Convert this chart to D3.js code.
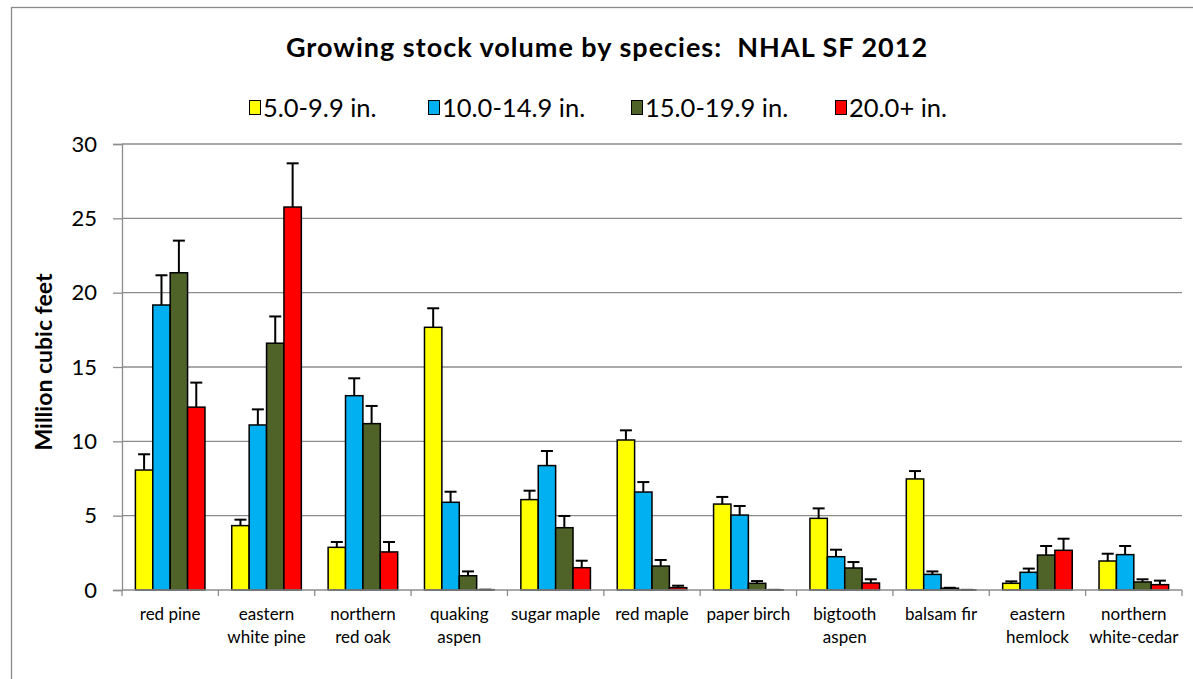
<!DOCTYPE html>
<html>
<head>
<meta charset="utf-8">
<script src="https://cdn.jsdelivr.net/npm/d3@7"></script>
<style>
  html, body { margin: 0; padding: 0; background: #fff; }
  svg { display: block; font-family: Lato, 'Open Sans', sans-serif; }
</style>
</head>
<body>
<svg id="chart" width="1193" height="679"></svg>
<script>
// species on the x axis (label lines)
const categories = [
  ['red pine'],
  ['eastern', 'white pine'],
  ['northern', 'red oak'],
  ['quaking', 'aspen'],
  ['sugar maple'],
  ['red maple'],
  ['paper birch'],
  ['bigtooth', 'aspen'],
  ['balsam fir'],
  ['eastern', 'hemlock'],
  ['northern', 'white-cedar']
];

const seriesNames = ['5.0-9.9 in.', '10.0-14.9 in.', '15.0-19.9 in.', '20.0+ in.'];
const seriesColors = ['#ffff00', '#00b0f0', '#4f6228', '#ff0000'];

// million cubic feet, per diameter class
const small = [8.07, 4.33, 2.87, 17.67, 6.08, 10.09, 5.78, 4.82, 7.47, 0.45, 1.95];
const pole = [19.17, 11.1, 13.07, 5.9, 8.37, 6.59, 5.04, 2.24, 1.05, 1.19, 2.38];
const medium = [21.34, 16.6, 11.19, 0.96, 4.19, 1.61, 0.45, 1.48, 0.12, 2.35, 0.54];
const large = [12.3, 25.76, 2.56, 0.02, 1.5, 0.16, 0.01, 0.47, 0.01, 2.67, 0.36];

// plus-side error bar lengths
const smallErr = [1.06, 0.4, 0.36, 1.28, 0.6, 0.65, 0.48, 0.67, 0.53, 0.13, 0.49];
const poleErr = [2.0, 1.05, 1.17, 0.71, 0.98, 0.67, 0.61, 0.47, 0.2, 0.25, 0.58];
const mediumErr = [2.16, 1.8, 1.19, 0.29, 0.79, 0.41, 0.15, 0.4, 0.03, 0.61, 0.18];
const largeErr = [1.65, 2.94, 0.67, 0, 0.47, 0.13, 0, 0.25, 0, 0.78, 0.27];

const yTicks = [0, 5, 10, 15, 20, 25, 30];

const values = [small, pole, medium, large];
const errors = [smallErr, poleErr, mediumErr, largeErr];

const margin = { top: 144, right: 11, bottom: 89, left: 122 };
const W = 1193, H = 679;
const svg = d3.select('#chart');

// outer chart border (clipped by window on right / bottom)
svg.append('rect')
  .attr('x', 11.5).attr('y', 7.5)
  .attr('width', 1300).attr('height', 800)
  .attr('fill', 'none').attr('stroke', '#8a8a8a').attr('stroke-width', 1.3);

const keys = categories.map(c => c.join(' '));
const x0 = d3.scaleBand()
  .domain(keys)
  .range([margin.left, W - margin.right])
  .paddingInner(0.278)
  .paddingOuter(0.139);

const x1 = d3.scaleBand()
  .domain(d3.range(seriesNames.length))
  .range([0, x0.bandwidth()]);

const y = d3.scaleLinear()
  .domain([0, 30])
  .range([H - margin.bottom, margin.top]);

const step = x0.step();
const gray = '#8c8c8c';

// gridlines
svg.append('g').selectAll('line')
  .data(yTicks.filter(d => d > 0))
  .join('line')
  .attr('x1', margin.left).attr('x2', W - margin.right)
  .attr('y1', d => y(d)).attr('y2', d => y(d))
  .attr('stroke', gray).attr('stroke-width', 1.3);

// y axis
const yAxis = svg.append('g')
  .attr('transform', `translate(${margin.left},0)`)
  .call(d3.axisLeft(y).tickValues(yTicks).tickSize(9).tickPadding(16));
yAxis.select('.domain').attr('stroke', gray).attr('stroke-width', 1.3);
yAxis.selectAll('.tick line').attr('stroke', gray).attr('stroke-width', 1.3);
yAxis.selectAll('.tick text')
  .attr('fill', '#000').attr('font-size', 22).attr('font-family', 'Lato, sans-serif');

// bars
const groups = svg.append('g').selectAll('g')
  .data(keys)
  .join('g')
  .attr('transform', d => `translate(${x0(d)},0)`);

groups.each(function (k, i) {
  const g = d3.select(this);
  values.forEach((vals, s) => {
    const v = vals[i];
    const bx = x1(s);
    g.append('rect')
      .attr('x', bx)
      .attr('y', y(v))
      .attr('width', x1.bandwidth())
      .attr('height', y(0) - y(v))
      .attr('fill', seriesColors[s])
      .attr('stroke', '#000')
      .attr('stroke-width', 1.5);
    const e = errors[s][i];
    const cx = bx + x1.bandwidth() / 2;
    g.append('line')
      .attr('x1', cx).attr('x2', cx)
      .attr('y1', y(v)).attr('y2', y(v + e))
      .attr('stroke', '#000').attr('stroke-width', 2);
    g.append('line')
      .attr('x1', cx - 6).attr('x2', cx + 6)
      .attr('y1', y(v + e)).attr('y2', y(v + e))
      .attr('stroke', '#000').attr('stroke-width', 2);
  });
});

// x axis line + category tick marks
const xAxisG = svg.append('g');
xAxisG.append('line')
  .attr('x1', margin.left).attr('x2', W - margin.right)
  .attr('y1', y(0)).attr('y2', y(0))
  .attr('stroke', gray).attr('stroke-width', 1.3);
xAxisG.selectAll('line.tk')
  .data(d3.range(keys.length + 1))
  .join('line')
  .attr('class', 'tk')
  .attr('x1', i => margin.left + i * step).attr('x2', i => margin.left + i * step)
  .attr('y1', y(0)).attr('y2', y(0) + 6)
  .attr('stroke', gray).attr('stroke-width', 1.3);

// category labels
const labels = xAxisG.selectAll('text.cat')
  .data(categories)
  .join('text')
  .attr('class', 'cat')
  .attr('text-anchor', 'middle')
  .attr('font-size', 17)
  .attr('fill', '#000')
  .attr('transform', (d, i) => `translate(${x0(keys[i]) + x0.bandwidth() / 2},620)`);
labels.selectAll('tspan')
  .data(d => d)
  .join('tspan')
  .attr('x', 0)
  .attr('dy', (d, j) => j === 0 ? 0 : 23)
  .text(d => d);

// y axis title
svg.append('text')
  .attr('transform', 'translate(52,362) rotate(-90)')
  .attr('text-anchor', 'middle')
  .attr('font-size', 23)
  .attr('font-weight', 'bold')
  .text('Million cubic feet');

// chart title
svg.append('text')
  .attr('x', 607).attr('y', 57)
  .attr('text-anchor', 'middle')
  .attr('font-size', 27)
  .attr('font-weight', 'bold')
  .attr('letter-spacing', 1)
  .style('white-space', 'pre')
  .text('Growing stock volume by species:  NHAL SF 2012');

// legend
const legendX = [249, 428, 631, 835];
const legend = svg.append('g').selectAll('g')
  .data(seriesNames)
  .join('g')
  .attr('transform', (d, i) => `translate(${legendX[i]},100)`);
legend.append('rect')
  .attr('x', 0.5).attr('y', 0.5)
  .attr('width', 11).attr('height', 14)
  .attr('fill', (d, i) => seriesColors[i])
  .attr('stroke', '#000').attr('stroke-width', 1);
legend.append('text')
  .attr('x', 14).attr('y', 17)
  .attr('font-size', 25.5)
  .text(d => d);
</script>
</body>
</html>
